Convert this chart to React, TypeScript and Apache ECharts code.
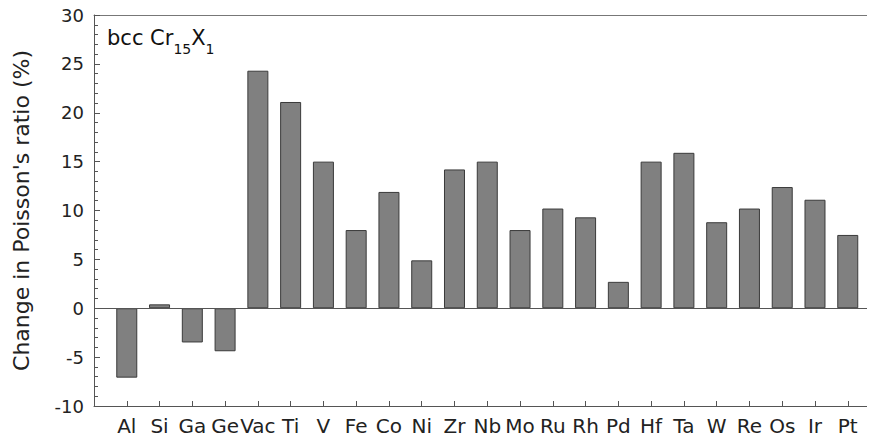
import React, { useEffect, useRef } from "react";
import * as echarts from "echarts";

const categories = ["Al", "Si", "Ga", "Ge", "Vac", "Ti", "V", "Fe", "Co", "Ni", "Zr", "Nb", "Mo", "Ru", "Rh", "Pd", "Hf", "Ta", "W", "Re", "Os", "Ir", "Pt"];
const values = [-7.1, 0.4, -3.5, -4.4, 24.3, 21.1, 15.0, 8.0, 11.9, 4.9, 14.2, 15.0, 8.0, 10.2, 9.3, 2.7, 15.0, 15.9, 8.8, 10.2, 12.4, 11.1, 7.5];
const yTicks = { min: -10, max: 30, interval: 5 };

export default function App() {
  const ref = useRef<HTMLDivElement>(null);
  useEffect(() => {
    if (!ref.current) return;
    const chart = echarts.init(ref.current, undefined, { renderer: "svg" });
    const font = "DejaVu Sans, Arial, sans-serif";
    const xMax = 23.77;
    chart.setOption({
      animation: false,
      backgroundColor: "#ffffff",
      grid: { left: 94, top: 15, right: 2, bottom: 36, containLabel: false },
      xAxis: [
        {
          type: "value",
          min: 0,
          max: xMax,
          interval: 1,
          position: "bottom",
          splitLine: { show: false },
          axisLine: { show: true, onZero: false, lineStyle: { color: "#555", width: 1 } },
          axisTick: { show: true, inside: true, length: 5, lineStyle: { color: "#555" } },
          axisLabel: {
            show: true,
            margin: 10,
            fontSize: 20,
            fontFamily: font,
            color: "#222",
            showMaxLabel: false,
            formatter: (v: number) => {
              const i = Math.round(v) - 1;
              return Math.abs(v - Math.round(v)) < 1e-6 && i >= 0 && i < categories.length ? categories[i] : "";
            },
          },
        },
        {
          type: "value",
          min: 0,
          max: xMax,
          position: "top",
          splitLine: { show: false },
          axisLine: { show: true, onZero: false, lineStyle: { color: "#777", width: 1 } },
          axisTick: { show: false },
          axisLabel: { show: false },
        },
      ],
      yAxis: {
        type: "value",
        min: yTicks.min,
        max: yTicks.max,
        interval: yTicks.interval,
        name: "Change in Poisson's ratio (%)",
        nameLocation: "middle",
        nameGap: 62,
        nameTextStyle: { fontSize: 22, fontFamily: font, color: "#222" },
        splitLine: { show: false },
        axisLine: { show: true, onZero: false, lineStyle: { color: "#555", width: 1 } },
        axisTick: { show: true, inside: true, length: 6, lineStyle: { color: "#555" } },
        minorTick: { show: true, splitNumber: 5, length: 4, lineStyle: { color: "#555" } },
        axisLabel: { fontSize: 18, fontFamily: font, color: "#222", margin: 10 },
      },
      series: [
        {
          type: "bar",
          xAxisIndex: 0,
          barWidth: 21,
          data: values.map((v, i) => [i + 1, v]),
          itemStyle: { color: "#808080", borderColor: "#3a3a3a", borderWidth: 1 },
          markLine: {
            silent: true,
            symbol: ["none", "none"],
            label: { show: false },
            lineStyle: { color: "#555", width: 1, type: "solid" },
            data: [{ yAxis: 0 }],
          },
        },
      ],
      graphic: [
        {
          type: "text",
          left: 107,
          top: 27,
          style: {
            text: "{n|bcc Cr}{s|15}{n|X}{s|1}",
            fontFamily: font,
            fill: "#111",
            rich: {
              n: { fontSize: 21, fontFamily: font, fill: "#111", lineHeight: 25 },
              s: { fontSize: 14, fontFamily: font, fill: "#111", verticalAlign: "bottom", lineHeight: 17, padding: [0, 0, -6, 0] },
            },
          },
        },
      ],
    });
    return () => chart.dispose();
  }, []);
  return <div ref={ref} style={{ width: 875, height: 442, margin: -8 }} />;
}
